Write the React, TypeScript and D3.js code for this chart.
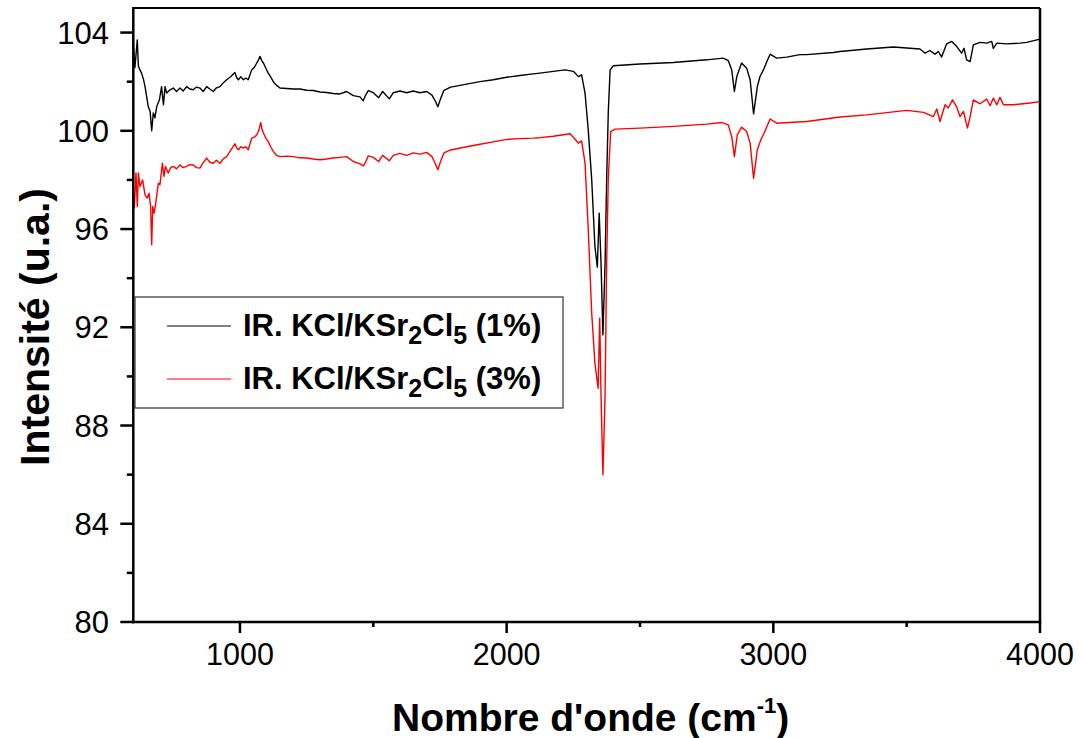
import React from "react";
import * as d3 from "d3";

// Wavenumber (cm-1) / intensity (u.a.) pairs
const spectrum1Pct: [number, number][] = [
  [600, 103.57], [606, 102.57], [615, 103.7], [619, 102.64], [625, 102.48], [631, 102.35], [638, 102.1],
  [644, 101.8], [650, 101.4], [656, 100.99], [663, 100.79], [669, 100.0], [675, 100.73], [681, 100.53],
  [688, 100.99], [698, 101.26], [706, 101.8], [713, 101.06], [719, 101.8], [725, 101.54], [738, 101.67],
  [750, 101.74], [762, 101.6], [775, 101.74], [787, 101.62], [800, 101.8], [812, 101.7], [825, 101.67],
  [837, 101.78], [850, 101.74], [862, 101.6], [875, 101.8], [887, 101.7], [900, 101.6], [912, 101.75],
  [925, 101.8], [937, 101.95], [950, 102.08], [965, 102.2], [981, 102.37], [988, 102.15], [994, 102.08],
  [1003, 102.2], [1013, 102.08], [1022, 102.15], [1031, 102.08], [1044, 102.48], [1055, 102.6], [1063, 102.76],
  [1070, 102.9], [1075, 103.03], [1082, 102.85], [1088, 102.76], [1097, 102.55], [1106, 102.35], [1115, 102.2],
  [1125, 102.0], [1137, 101.85], [1150, 101.74], [1175, 101.72], [1200, 101.7], [1225, 101.7], [1250, 101.65],
  [1275, 101.64], [1300, 101.58], [1325, 101.56], [1350, 101.52], [1375, 101.5], [1400, 101.6], [1425, 101.43],
  [1450, 101.38], [1462, 101.22], [1469, 101.4], [1481, 101.64], [1500, 101.55], [1520, 101.35], [1535, 101.6],
  [1560, 101.3], [1575, 101.55], [1600, 101.62], [1625, 101.55], [1650, 101.62], [1675, 101.55], [1700, 101.6],
  [1720, 101.45], [1733, 101.2], [1742, 100.98], [1752, 101.3], [1765, 101.65], [1790, 101.78], [1850, 101.9],
  [1900, 102.0], [1950, 102.08], [2000, 102.18], [2050, 102.25], [2100, 102.32], [2125, 102.35], [2175, 102.42],
  [2219, 102.48], [2250, 102.42], [2269, 102.21], [2281, 102.28], [2294, 101.53], [2306, 100.04], [2319, 98.0],
  [2331, 95.29], [2340, 94.45], [2347, 96.65], [2354, 94.6], [2361, 91.69], [2369, 94.6], [2375, 98.0],
  [2381, 100.72], [2388, 102.48], [2400, 102.65], [2500, 102.72], [2625, 102.78], [2750, 102.89], [2812, 102.96],
  [2831, 102.86], [2844, 102.48], [2854, 101.6], [2863, 102.21], [2881, 102.76], [2900, 102.55], [2913, 102.08],
  [2926, 100.69], [2940, 101.8], [2950, 102.21], [2963, 102.48], [2975, 102.8], [2988, 103.12], [3012, 102.96],
  [3050, 103.0], [3100, 103.1], [3125, 103.1], [3225, 103.19], [3250, 103.23], [3350, 103.33], [3450, 103.41],
  [3550, 103.33], [3569, 103.16], [3587, 103.27], [3606, 103.12], [3619, 103.23], [3631, 103.0], [3650, 103.54],
  [3669, 103.64], [3688, 103.43], [3706, 103.16], [3715, 103.36], [3725, 102.89], [3738, 102.82], [3750, 103.5],
  [3775, 103.6], [3800, 103.57], [3819, 103.64], [3825, 103.36], [3838, 103.57], [3875, 103.54], [3925, 103.57],
  [3950, 103.6], [4000, 103.73],
];

const spectrum3Pct: [number, number][] = [
  [600, 97.46], [604, 96.85], [610, 98.28], [615, 96.92], [619, 98.28], [625, 97.73], [635, 98.0], [644, 97.39],
  [652, 97.26], [659, 97.46], [665, 96.92], [669, 95.36], [673, 96.92], [678, 96.65], [685, 97.12], [694, 97.87],
  [700, 97.8], [709, 98.68], [715, 98.14], [721, 98.55], [731, 98.28], [740, 98.5], [750, 98.55], [762, 98.45],
  [775, 98.61], [787, 98.5], [800, 98.55], [812, 98.62], [825, 98.61], [837, 98.5], [850, 98.48], [862, 98.7],
  [875, 98.89], [887, 98.72], [900, 98.68], [912, 98.8], [925, 98.68], [937, 98.85], [950, 98.95], [965, 99.2],
  [981, 99.47], [988, 99.3], [994, 99.23], [1003, 99.35], [1013, 99.3], [1022, 99.35], [1031, 99.23], [1044, 99.7],
  [1055, 99.75], [1063, 99.84], [1070, 100.0], [1078, 100.34], [1083, 100.05], [1088, 99.91], [1097, 99.7],
  [1106, 99.56], [1115, 99.35], [1125, 99.16], [1137, 99.0], [1150, 98.95], [1175, 98.97], [1200, 98.95],
  [1225, 98.9], [1250, 98.89], [1275, 98.85], [1300, 98.82], [1325, 98.85], [1350, 98.89], [1375, 98.92],
  [1400, 98.95], [1425, 98.75], [1450, 98.65], [1463, 98.57], [1470, 98.7], [1481, 98.98], [1500, 98.92],
  [1520, 98.75], [1535, 99.0], [1560, 98.78], [1575, 99.0], [1600, 99.08], [1625, 99.0], [1650, 99.1],
  [1675, 99.05], [1700, 99.12], [1720, 98.95], [1733, 98.65], [1742, 98.41], [1752, 98.75], [1765, 99.1],
  [1790, 99.22], [1850, 99.35], [1900, 99.45], [1950, 99.55], [2000, 99.65], [2050, 99.68], [2100, 99.7],
  [2125, 99.72], [2175, 99.78], [2238, 99.88], [2269, 99.5], [2281, 99.59], [2294, 98.68], [2306, 95.97],
  [2319, 92.57], [2331, 90.54], [2343, 89.52], [2349, 92.37], [2354, 89.18], [2361, 85.99], [2369, 89.18],
  [2375, 94.61], [2381, 98.0], [2390, 99.97], [2406, 100.07], [2500, 100.11], [2625, 100.18], [2750, 100.27],
  [2806, 100.34], [2831, 100.24], [2844, 99.77], [2854, 98.95], [2865, 99.84], [2881, 100.15], [2900, 99.97],
  [2913, 99.5], [2926, 98.07], [2940, 99.23], [2953, 99.63], [2965, 99.9], [2988, 100.48], [3012, 100.31],
  [3125, 100.38], [3250, 100.56], [3350, 100.65], [3500, 100.83], [3563, 100.75], [3600, 100.58], [3613, 100.89],
  [3625, 100.38], [3644, 101.06], [3656, 100.93], [3672, 101.26], [3688, 100.96], [3700, 100.58], [3713, 100.79],
  [3728, 100.11], [3738, 100.58], [3750, 101.26], [3775, 101.1], [3800, 101.29], [3813, 101.02], [3825, 101.33],
  [3838, 101.06], [3850, 101.36], [3863, 101.06], [3900, 101.06], [3963, 101.13], [4000, 101.19],
];

const xMajorTicks = [1000, 2000, 3000, 4000];
const xMinorTicks = [1500, 2500, 3500];
const yMajorTicks = [80, 84, 88, 92, 96, 100, 104];
const yMinorTicks = [82, 86, 90, 94, 98, 102];

const seriesNames = ["1%", "3%"];
const seriesColors = ["#000000", "#ff0000"];

const W = 1083;
const H = 738;
const L = 133.3, R = 1040, T = 8, B = 622;
const FONT = "'Liberation Sans', Arial, Helvetica, sans-serif";

export default function App() {
  const x = d3.scaleLinear().domain([600, 4000]).range([L, R]);
  const y = d3.scaleLinear().domain([80, 105]).range([B, T]);
  const line = d3
    .line<[number, number]>()
    .x((d) => x(d[0]))
    .y((d) => y(d[1]));
  const series = [spectrum1Pct, spectrum3Pct];

  const legendX = 135, legendY = 297, legendW = 428, legendH = 111;

  return (
    <svg
      width={W}
      height={H}
      style={{ position: "absolute", left: 0, top: 0, background: "#fff" }}
      fontFamily={FONT}
    >
      <rect x={0} y={0} width={W} height={H} fill="#fff" />
      {series.map((s, i) => (
        <path key={i} d={line(s) || ""} fill="none" stroke={seriesColors[i]} strokeWidth={1.4} strokeLinejoin="round" />
      ))}

      {/* frame */}
      <line x1={L} y1={T} x2={R} y2={T} stroke="#000" strokeWidth={2.2} />
      <line x1={R} y1={T} x2={R} y2={B} stroke="#000" strokeWidth={2.5} />
      <line x1={L} y1={T - 1} x2={L} y2={B + 1.2} stroke="#000" strokeWidth={2.5} />
      <line x1={L - 1.2} y1={B} x2={R + 1.2} y2={B} stroke="#000" strokeWidth={2.5} />

      {xMajorTicks.map((t) => (
        <g key={"xm" + t}>
          <line x1={x(t)} x2={x(t)} y1={B} y2={B + 11} stroke="#000" strokeWidth={2.5} />
          <text x={x(t)} y={665} fontSize={30.5} textAnchor="middle" fill="#000">{t}</text>
        </g>
      ))}
      {xMinorTicks.map((t) => (
        <line key={"xn" + t} x1={x(t)} x2={x(t)} y1={B} y2={B + 5} stroke="#000" strokeWidth={2.5} />
      ))}

      {yMajorTicks.map((t) => (
        <g key={"ym" + t}>
          <line x1={L} x2={L - 13} y1={y(t)} y2={y(t)} stroke="#000" strokeWidth={2.5} />
          <text x={109} y={y(t) + 11} fontSize={31} textAnchor="end" fill="#000">{t}</text>
        </g>
      ))}
      {yMinorTicks.map((t) => (
        <line key={"yn" + t} x1={L} x2={L - 6.5} y1={y(t)} y2={y(t)} stroke="#000" strokeWidth={2.5} />
      ))}

      <text x={(L + R) / 2 + 4} y={731} fontSize={39} fontWeight="bold" textAnchor="middle" fill="#000">
        Nombre d'onde (cm<tspan fontSize={22} dy={-18}>-1</tspan><tspan dy={18}>)</tspan>
      </text>
      <text
        transform={`translate(49, 327) rotate(-90)`}
        fontSize={41}
        fontWeight="bold"
        textAnchor="middle"
        fill="#000"
      >
        Intensité  (u.a.)
      </text>

      <rect x={legendX} y={legendY} width={legendW} height={legendH} fill="#fff" stroke="#333" strokeWidth={1.2} />
      {seriesNames.map((n, i) => {
        const by = 336 + i * 53;
        return (
          <g key={n}>
            <line x1={167} x2={231} y1={by - 10} y2={by - 10} stroke={seriesColors[i]} strokeWidth={1.2} />
            <text x={243} y={by} fontSize={31} fontWeight="bold" fill="#000" style={{ whiteSpace: "pre" }}>
              IR. KCl/KSr<tspan fontSize={25} dy={8}>2</tspan>
              <tspan dy={-8}>Cl</tspan>
              <tspan fontSize={25} dy={8}>5</tspan>
              <tspan dy={-8}>{" (" + n + ")"}</tspan>
            </text>
          </g>
        );
      })}
    </svg>
  );
}
